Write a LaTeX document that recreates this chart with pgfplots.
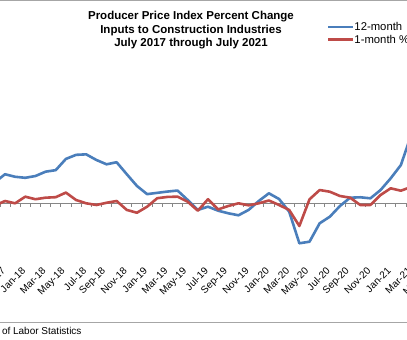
\documentclass[border=0pt]{standalone}
\usepackage{pgfplots}
\pgfplotsset{compat=1.18}
\usepackage{fontspec}
\setmainfont{Liberation Sans}
\definecolor{serblue}{HTML}{4A7EBB}
\definecolor{serred}{HTML}{BE4B48}
\definecolor{axgray}{HTML}{868686}
\definecolor{bordergray}{HTML}{A6A6A6}

\pgfplotstableread{
i  y12    y1
0  3.0    0.4
1  3.4    0.6
2  4.6    1.5
3  4.1   -0.45
4  5.7    0.45
5  5.2    0.0
6  5.0    1.3
7  5.35   0.8
8  6.2    1.1
9  6.5    1.2
10 8.7    2.1
11 9.5    0.65
12 9.6    0.0
13 8.5   -0.33
14 7.65   0.1
15 8.05   0.45
16 5.7   -1.3
17 3.4   -1.85
18 1.8   -0.67
19 2.05   1.0
20 2.3    1.25
21 2.5    1.3
22 0.65   0.3
23 -1.3  -1.45
24 -0.67  0.8
25 -1.45 -1.2
26 -1.96 -0.53
27 -2.35  0.0
28 -1.3  -0.4
29 0.45   0.0
30 1.96   0.55
31 0.84  -0.33
32 -1.65 -1.31
33 -7.84 -4.45
34 -7.53  0.78
35 -3.92  2.6
36 -2.63  2.27
37 -0.53  1.43
38 1.1    1.1
39 1.18  -0.33
40 0.98  -0.33
41 2.6    1.63
42 4.9    2.94
43 7.5    2.47
44 13.3   3.2
45 18.5   2.5
46 24.0   4.3
47 23.2  -0.5
48 21.8   0.6
}\ppidata

\newcommand{\rl}[1]{\rotatebox{45}{#1}}

\begin{document}
\begin{tikzpicture}[x=1pt,y=1pt]
\path[use as bounding box, clip] (0,0) rectangle (407,340);
\draw[bordergray, line width=1pt] (-5,339.2) -- (412,339.2);
\draw[bordergray, line width=1pt] (-5,17.5) -- (412,17.5);
\begin{axis}[
  at={(-40.7pt,85.7pt)}, anchor=south west,
  scale only axis, width=497.4pt, height=204pt,
  xmin=-0.5, xmax=48.5, ymin=-10, ymax=30,
  axis x line=middle, axis y line=none,
  hide obscured x ticks=false,
  x axis line style={-, draw=axgray, line width=0.8pt},
  xtick={0,2,...,48},
  xticklabels={\rl{Jul-17},\rl{Sep-17},\rl{Nov-17},\rl{Jan-18},\rl{Mar-18},\rl{May-18},\rl{Jul-18},\rl{Sep-18},\rl{Nov-18},\rl{Jan-19},\rl{Mar-19},\rl{May-19},\rl{Jul-19},\rl{Sep-19},\rl{Nov-19},\rl{Jan-20},\rl{Mar-20},\rl{May-20},\rl{Jul-20},\rl{Sep-20},\rl{Nov-20},\rl{Jan-21},\rl{Mar-21},\rl{May-21},\rl{Jul-21}},
  minor xtick={-0.5,0.5,...,48.5},
  tick align=outside,
  major tick length=0pt,
  minor tick length=3.3pt,
  every tick/.style={axgray, line width=0.8pt},
  every x tick label/.style={font=\fontsize{10}{12}\selectfont, inner sep=0pt, anchor=north east, xshift=1.1pt, yshift=-63.4pt},
  legend style={draw=none, fill=none, at={(axis description cs:0.7386,1.137)}, anchor=north west,
    font=\fontsize{11.3}{12}\selectfont, inner sep=0pt, row sep=2pt,
    nodes={inner sep=0pt, text height=8.2pt, text depth=2.2pt, anchor=base west}},
  legend cell align=left,
  legend image code/.code={\draw[#1, line width=2.6pt] (0pt,3.8pt) -- (25pt,3.8pt);},
  clip=false,
]
\addplot[serblue, line width=2.6pt, line join=round] table[x=i, y=y12] {\ppidata};
\addlegendentry{12-month}
\addplot[serred, line width=2.6pt, line join=round] table[x=i, y=y1] {\ppidata};
\addlegendentry{1-month \% change}
\end{axis}
\node[font=\fontsize{11.5}{13.3}\selectfont\bfseries, anchor=base] at (191,320) {Producer Price Index Percent Change};
\node[font=\fontsize{11.5}{13.3}\selectfont\bfseries, anchor=base] at (191,306.7) {Inputs to Construction Industries};
\node[font=\fontsize{11.5}{13.3}\selectfont\bfseries, anchor=base] at (191,293.4) {July 2017 through July 2021};
\node[font=\fontsize{10}{12}\selectfont, anchor=base east, inner sep=0pt] at (81.7,5.3) {Source: U.S. Bureau of Labor Statistics};
\end{tikzpicture}
\end{document}
